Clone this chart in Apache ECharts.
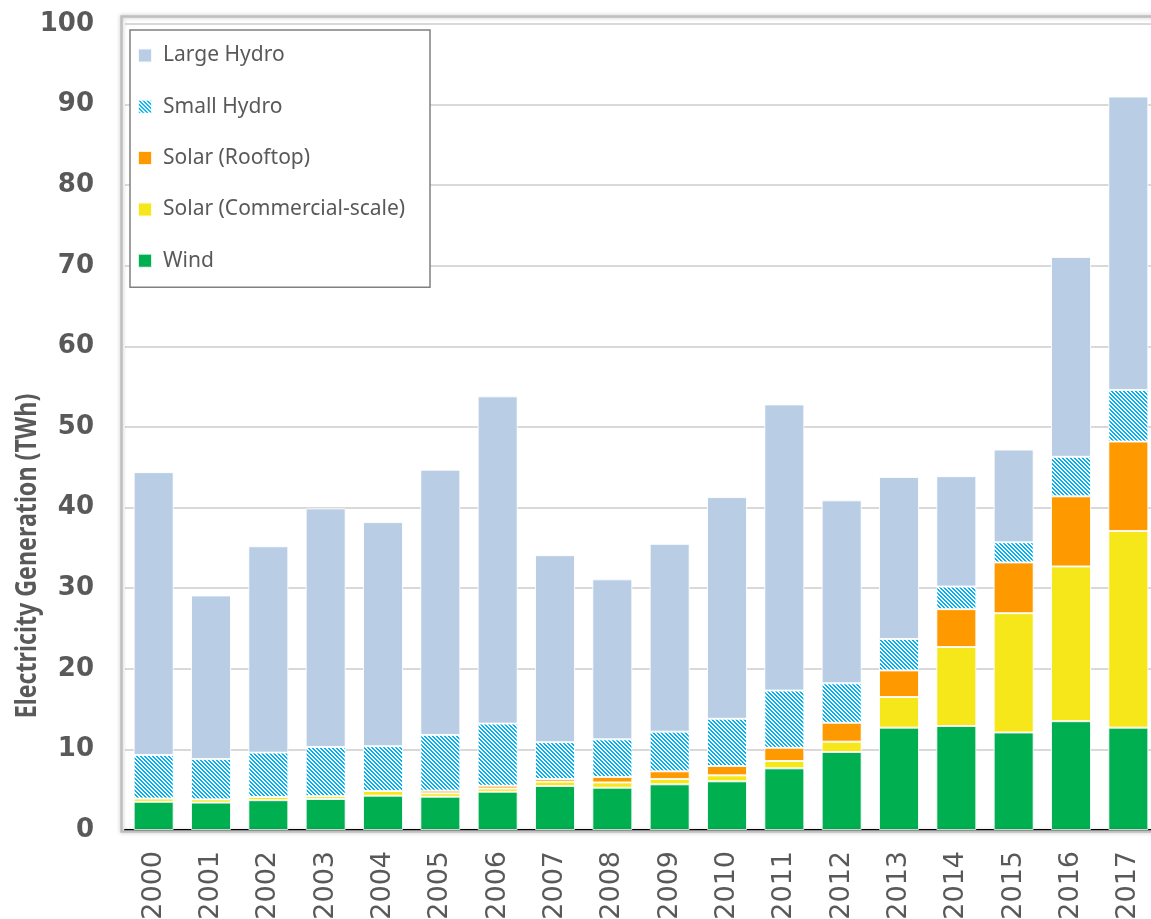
<!DOCTYPE html>
<html>
<head>
<meta charset="utf-8">
<script src="https://cdn.jsdelivr.net/npm/echarts@6/dist/echarts.min.js"></script>
<style>
html,body{margin:0;padding:0;background:#fff;}
#chart{width:1151px;height:919px;}
</style>
</head>
<body>
<div id="chart"></div>
<script>
const years = ['2000','2001','2002','2003','2004','2005','2006','2007','2008','2009','2010','2011','2012','2013','2014','2015','2016','2017'];
const wind        = [3.5, 3.4, 3.7, 3.85, 4.26, 4.13, 4.75, 5.46, 5.25, 5.67, 6.04, 7.65, 9.68, 12.7, 12.9, 12.1, 13.5, 12.7];
const solarComm   = [0.4, 0.4, 0.4, 0.35, 0.58, 0.42, 0.4, 0.54, 0.65, 0.66, 0.74, 0.91, 1.28, 3.8, 9.8, 14.8, 19.2, 24.4];
const solarRoof   = [0, 0, 0, 0, 0, 0.33, 0.35, 0.33, 0.68, 0.95, 1.16, 1.64, 2.34, 3.3, 4.7, 6.3, 8.7, 11.1];
const smallHydro  = [5.4, 5.0, 5.5, 6.1, 5.56, 6.92, 7.7, 4.57, 4.67, 4.92, 5.86, 7.1, 4.9, 3.9, 2.8, 2.5, 4.9, 6.4];
const largeHydro  = [35.1, 20.3, 25.6, 29.6, 27.8, 32.9, 40.6, 23.2, 19.85, 23.3, 27.5, 35.5, 22.7, 20.1, 13.7, 11.5, 24.8, 36.4];
const yTicks = { min: 0, max: 100, interval: 10 };

// hatched pattern for Small Hydro
const pc = document.createElement('canvas');
pc.width = 4; pc.height = 4;
const pctx = pc.getContext('2d');
pctx.fillStyle = '#ffffff';
pctx.fillRect(0, 0, 4, 4);
pctx.fillStyle = '#00B0F0';
for (let y = 0; y < 4; y++) {
  for (let x = 0; x < 4; x++) {
    const m = ((x - y) % 4 + 4) % 4;
    if (m === 0 || m === 1) pctx.fillRect(x, y, 1, 1);
  }
}

const chart = echarts.init(document.getElementById('chart'), null, { renderer: 'canvas' });
const border = { borderColor: 'rgba(255,255,255,0.85)', borderWidth: 1 };
function mk(name, data, color) {
  return { name, type: 'bar', stack: 'total', data, barWidth: 40,
    itemStyle: Object.assign({ color }, border), emphasis: { disabled: true } };
}
const option = {
  animation: false,
  backgroundColor: '#ffffff',
  grid: { left: 125, right: -6, top: 24, bottom: 89, containLabel: false, outerBoundsMode: 'none' },
  legend: {
    orient: 'vertical', left: 130, top: 30,
    data: ['Large Hydro', 'Small Hydro', 'Solar (Rooftop)', 'Solar (Commercial-scale)', 'Wind'],
    backgroundColor: '#ffffff', borderColor: '#808080', borderWidth: 1.5,
    padding: [15, 10, 16, 7],
    itemWidth: 14, itemHeight: 14, itemGap: 30.3,
    icon: 'rect',
    textStyle: { fontFamily: 'Noto Sans', fontSize: 21, color: '#595959', lineHeight: 20,
      padding: [0, 0, 0, 6], width: 257 }
  },
  xAxis: {
    type: 'category', data: years,
    axisLine: { lineStyle: { color: '#000000', width: 2 } },
    axisTick: { length: 10, lineStyle: { color: '#000000', width: 2 } },
    axisLabel: { rotate: 90, margin: 21, fontFamily: 'DejaVu Sans', fontSize: 27, color: '#595959' },
    splitLine: { show: false }
  },
  yAxis: {
    type: 'value', min: yTicks.min, max: yTicks.max, interval: yTicks.interval,
    axisLine: { show: false }, axisTick: { show: false },
    axisLabel: { margin: 31, fontFamily: 'DejaVu Sans', fontWeight: 'bold', fontSize: 26, color: '#595959' },
    splitLine: { lineStyle: { color: '#d9d9d9', width: 2 } }
  },
  graphic: [
    { type: 'rect', left: 119, top: 14, z: 100, silent: true,
      shape: { width: 1100, height: 815 },
      style: { fill: null, stroke: '#bfbfbf', lineWidth: 2.5, shadowBlur: 4, shadowColor: 'rgba(0,0,0,0.25)' } },
    { type: 'text', x: 28, y: 556, rotation: Math.PI / 2, scaleX: 0.83, z: 100, silent: true,
      style: { text: 'Electricity Generation (TWh)', fill: '#595959',
        font: 'bold 28px "Noto Sans"', align: 'center', verticalAlign: 'middle' } }
  ],
  series: [
    mk('Wind', wind, '#00B050'),
    mk('Solar (Commercial-scale)', solarComm, '#F5E71A'),
    mk('Solar (Rooftop)', solarRoof, '#FF9900'),
    mk('Small Hydro', smallHydro, { image: pc, repeat: 'repeat' }),
    mk('Large Hydro', largeHydro, '#B9CDE5')
  ]
};
chart.setOption(option);
</script>
</body>
</html>
